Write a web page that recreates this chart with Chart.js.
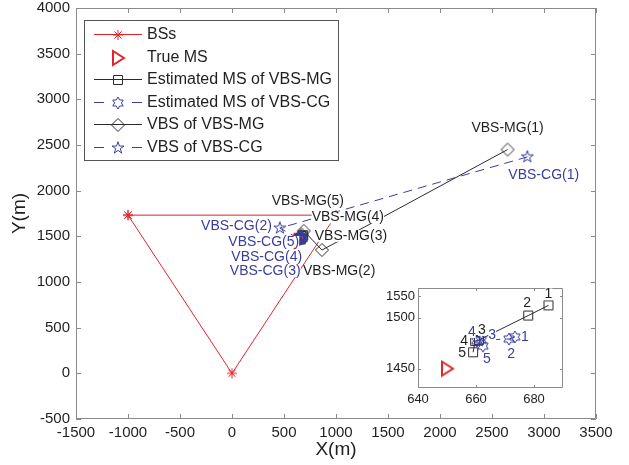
<!DOCTYPE html>
<html>
<head>
<meta charset="utf-8">
<script src="https://cdn.jsdelivr.net/npm/chart.js@4/dist/chart.umd.min.js"></script>
<style>
  body { margin: 0; background: #fff; }
  #wrap { position: relative; width: 629px; height: 465px; }
  #main { position: absolute; left: 0; top: 0; }
  #inset { position: absolute; left: 376px; top: 280px; }
</style>
</head>
<body>
<div id="wrap">
  <canvas id="main" width="629" height="465"></canvas>
  <canvas id="inset" width="200" height="140"></canvas>
</div>
<script>
const FONT = '"Liberation Sans", Arial, Helvetica, sans-serif';
const RED = '#e2232a';
const BLUE = '#393d9e';
const DARK = '#2b2b2b';
const AXIS = '#8a8a8a';
const TEXT = '#1f1f1f';

// Data
const seriesNames = ['BSs', 'True MS', 'Estimated MS of VBS-MG', 'Estimated MS of VBS-CG', 'VBS of VBS-MG', 'VBS of VBS-CG'];
const bsX = [-1000, 0, 1000, -1000];
const bsY = [1732, 0, 1732, 1732];
const trueMsX = [650];
const trueMsY = [1450];
const estMgX = [685, 678, 661, 659.7, 659];
const estMgY = [1512, 1502, 1478, 1477, 1466];
const estCgX = [673.4, 671.4, 661.8, 660.3, 662.4];
const estCgY = [1481, 1479, 1478, 1477, 1472];
const vbsMgX = [2650, 865, 690, 670, 660];
const vbsMgY = [2450, 1350, 1560, 1520, 1495];
const vbsCgX = [2840, 460, 650, 645, 665];
const vbsCgY = [2370, 1590, 1470, 1490, 1505];
const vbsMgNames = ['VBS-MG(1)', 'VBS-MG(2)', 'VBS-MG(3)', 'VBS-MG(4)', 'VBS-MG(5)'];
const vbsCgNames = ['VBS-CG(1)', 'VBS-CG(2)', 'VBS-CG(3)', 'VBS-CG(4)', 'VBS-CG(5)'];
const pointNumbers = ['1', '2', '3', '4', '5'];
const xTicks = [-1500, -1000, -500, 0, 500, 1000, 1500, 2000, 2500, 3000, 3500];
const yTicks = [-500, 0, 500, 1000, 1500, 2000, 2500, 3000, 3500, 4000];
const insetXTicks = [640, 660, 680];
const insetYTicks = [1450, 1500, 1521];
const insetYTickLabels = ['1450', '1500', '1550'];

// Marker images (MATLAB style outlines)
function marker(size, color, lw, path) {
    const c = document.createElement('canvas');
    c.width = size;
    c.height = size;
    const g = c.getContext('2d');
    g.strokeStyle = color;
    g.lineWidth = lw;
    g.translate(size / 2, size / 2);
    g.beginPath();
    path(g);
    g.stroke();
    return c;
}

function starPath(g, R, r, n) {
    for (let i = 0; i < 2 * n; i++) {
        const a = -Math.PI / 2 + i * Math.PI / n;
        const rr = i % 2 ? r : R;
        const px = rr * Math.cos(a), py = rr * Math.sin(a);
        if (i === 0) g.moveTo(px, py); else g.lineTo(px, py);
    }
    g.closePath();
}

const mkAsterisk = marker(14, RED, 1, g => {
    const r = 5, d = 3.6;
    g.moveTo(-r, 0); g.lineTo(r, 0);
    g.moveTo(0, -r); g.lineTo(0, r);
    g.moveTo(-d, -d); g.lineTo(d, d);
    g.moveTo(-d, d); g.lineTo(d, -d);
});
const mkTriangle = marker(18, RED, 2, g => {
    g.moveTo(6, 0); g.lineTo(-5, -7); g.lineTo(-5, 7); g.closePath();
});
const mkSquare = marker(14, DARK, 1, g => g.rect(-4.5, -4.5, 9, 9));
const mkHexagram = marker(16, BLUE, 1, g => starPath(g, 6, 6 * 0.577, 6));
const mkDiamond = marker(16, DARK, 1, g => {
    g.moveTo(0, -6.5); g.lineTo(6.5, 0); g.lineTo(0, 6.5); g.lineTo(-6.5, 0); g.closePath();
});
const mkPentagram = marker(16, BLUE, 1, g => starPath(g, 6.3, 6.3 * 0.382, 5));

function series(label, xs, ys, style, color, dash, line, order) {
    return {
        label: label,
        data: xs.map((x, i) => ({ x: x, y: ys[i] })),
        showLine: line,
        borderColor: color,
        backgroundColor: color,
        borderWidth: 1,
        borderDash: dash,
        pointStyle: style,
        pointRadius: 5,
        pointHoverRadius: 5,
        order: order
    };
}

// box with inward ticks on all four sides
function framePlugin(tickLen) {
    return {
        id: 'frame',
        afterDatasetsDraw(chart) {
            const { ctx, chartArea: a, scales } = chart;
            ctx.save();
            ctx.strokeStyle = AXIS;
            ctx.lineWidth = 1;
            ctx.beginPath();
            ctx.rect(a.left + 0.5, a.top + 0.5, a.right - a.left - 1, a.bottom - a.top - 1);
            scales.x.ticks.forEach(t => {
                const px = Math.round(scales.x.getPixelForValue(t.value)) + 0.5;
                ctx.moveTo(px, a.bottom); ctx.lineTo(px, a.bottom - tickLen);
                ctx.moveTo(px, a.top); ctx.lineTo(px, a.top + tickLen);
            });
            scales.y.ticks.forEach(t => {
                const py = Math.round(scales.y.getPixelForValue(t.value)) + 0.5;
                ctx.moveTo(a.left, py); ctx.lineTo(a.left + tickLen, py);
                ctx.moveTo(a.right, py); ctx.lineTo(a.right - tickLen, py);
            });
            ctx.stroke();
            ctx.restore();
        }
    };
}

function drawLabel(ctx, text, x, y, color, align, size) {
    ctx.font = size + 'px ' + FONT;
    const w = ctx.measureText(text).width;
    let left = x;
    if (align === 'center') left = x - w / 2;
    if (align === 'right') left = x - w;
    ctx.fillStyle = '#fff';
    ctx.fillRect(left, y - size * 0.42, w, size * 0.84);
    ctx.fillStyle = color;
    ctx.textAlign = 'left';
    ctx.textBaseline = 'middle';
    ctx.fillText(text, left, y);
}

// text labels: dataset index, point index, text, colour, alignment, pixel offset
const mainLabelSpec = [
    [4, 0, vbsMgNames[0], TEXT, 'center', 0, -21],
    [4, 1, vbsMgNames[1], TEXT, 'left', -19, 21],
    [4, 2, vbsMgNames[2], TEXT, 'left', 11, 5],
    [4, 3, vbsMgNames[3], TEXT, 'left', 10, -17],
    [4, 4, vbsMgNames[4], TEXT, 'left', -29, -36],
    [5, 0, vbsCgNames[0], BLUE, 'left', -19, 18],
    [5, 1, vbsCgNames[1], BLUE, 'right', -8, -2],
    [5, 2, vbsCgNames[2], BLUE, 'right', 1, 32],
    [5, 3, vbsCgNames[3], BLUE, 'right', 3, 20],
    [5, 4, vbsCgNames[4], BLUE, 'right', -2, 6]
];

const insetLabelSpec = [
    [0, 0, pointNumbers[0], TEXT, 'center', 0, -11],
    [0, 1, pointNumbers[1], TEXT, 'center', -1, -12],
    [0, 2, pointNumbers[2], TEXT, 'center', 3, -10],
    [0, 3, pointNumbers[3], TEXT, 'center', -11, 0],
    [0, 4, pointNumbers[4], TEXT, 'center', -11, 1],
    [1, 0, pointNumbers[0], BLUE, 'center', 10, 0],
    [1, 1, pointNumbers[1], BLUE, 'center', 2, 15],
    [1, 2, pointNumbers[2], BLUE, 'center', 11, -5],
    [1, 3, pointNumbers[3], BLUE, 'center', -5, -9],
    [1, 4, pointNumbers[4], BLUE, 'center', 4, 13]
];

function labelPlugin(spec, size) {
    return {
        id: 'pointLabels',
        afterDatasetsDraw(chart) {
            const ctx = chart.ctx;
            ctx.save();
            spec.forEach(([d, i, text, color, align, dx, dy]) => {
                const el = chart.getDatasetMeta(d).data[i];
                drawLabel(ctx, text, el.x + dx, el.y + dy, color, align, size);
            });
            ctx.restore();
        }
    };
}

const legendBox = {
    id: 'matlabLegend',
    afterDraw(chart) {
        const ctx = chart.ctx;
        ctx.save();
        ctx.fillStyle = '#fff';
        ctx.fillRect(84, 20, 254, 140);
        ctx.strokeStyle = '#555';
        ctx.lineWidth = 1;
        ctx.strokeRect(84.5, 20.5, 254, 140);
        chart.data.datasets.forEach((d, i) => {
            const y = Math.round(34 + i * 22.6) + 0.5;
            if (d.showLine) {
                ctx.strokeStyle = d.borderColor;
                ctx.beginPath();
                if (d.borderDash && d.borderDash.length) {
                    ctx.moveTo(94, y); ctx.lineTo(104, y);
                    ctx.moveTo(132, y); ctx.lineTo(142, y);
                } else {
                    ctx.moveTo(94, y); ctx.lineTo(142, y);
                }
                ctx.stroke();
            }
            const m = d.pointStyle;
            ctx.drawImage(m, 118 - m.width / 2, Math.round(y) - m.height / 2);
            ctx.fillStyle = TEXT;
            ctx.font = '16px ' + FONT;
            ctx.textAlign = 'left';
            ctx.textBaseline = 'middle';
            ctx.fillText(d.label, 147, y);
        });
        ctx.restore();
    }
};

const insetBackground = {
    id: 'insetBg',
    beforeDraw(chart) {
        const { ctx, chartArea: a } = chart;
        ctx.save();
        ctx.fillStyle = '#fff';
        ctx.fillRect(a.left, a.top, a.right - a.left, a.bottom - a.top);
        ctx.restore();
    }
};

const mainChart = new Chart(document.getElementById('main'), {
    type: 'scatter',
    data: {
        datasets: [
            series(seriesNames[0], bsX, bsY, mkAsterisk, RED, [], true, 6),
            series(seriesNames[1], trueMsX, trueMsY, mkTriangle, RED, [], false, 5),
            series(seriesNames[2], estMgX, estMgY, mkSquare, DARK, [], true, 4),
            series(seriesNames[3], estCgX, estCgY, mkHexagram, BLUE, [9, 6], true, 2),
            series(seriesNames[4], vbsMgX, vbsMgY, mkDiamond, DARK, [], true, 3),
            series(seriesNames[5], vbsCgX, vbsCgY, mkPentagram, BLUE, [9, 6], true, 1)
        ]
    },
    options: {
        responsive: false,
        animation: false,
        devicePixelRatio: 1,
        layout: { padding: { top: 8, right: 33, left: 0, bottom: 0 } },
        plugins: { legend: { display: false }, tooltip: { enabled: false } },
        scales: {
            x: {
                type: 'linear',
                min: -1500,
                max: 3500,
                grid: { display: false, drawTicks: false },
                border: { display: false },
                ticks: {
                    font: { family: FONT, size: 15 },
                    color: TEXT,
                    padding: 5,
                    maxRotation: 0,
                    autoSkip: false,
                    callback: v => String(v)
                },
                title: { display: true, text: 'X(m)', font: { family: FONT, size: 19 }, color: TEXT, padding: { top: 0, bottom: 4 } },
                afterBuildTicks: s => { s.ticks = xTicks.map(v => ({ value: v })); },
                afterFit: s => { s.height = 46; s.paddingLeft = 0; s.paddingRight = 0; }
            },
            y: {
                type: 'linear',
                min: -500,
                max: 4000,
                grid: { display: false, drawTicks: false },
                border: { display: false },
                ticks: {
                    font: { family: FONT, size: 15 },
                    color: TEXT,
                    padding: 6,
                    autoSkip: false,
                    callback: v => String(v)
                },
                title: { display: true, text: 'Y(m)', font: { family: FONT, size: 19 }, color: TEXT, padding: { top: 8, bottom: 0 } },
                afterBuildTicks: s => { s.ticks = yTicks.map(v => ({ value: v })); },
                afterFit: s => { s.width = 76; s.paddingTop = 0; s.paddingBottom = 0; }
            }
        }
    },
    plugins: [framePlugin(5), labelPlugin(mainLabelSpec, 14), legendBox]
});

const insetChart = new Chart(document.getElementById('inset'), {
    type: 'scatter',
    data: {
        datasets: [
            series(seriesNames[2], estMgX, estMgY, mkSquare, DARK, [], true, 2),
            series(seriesNames[3], estCgX, estCgY, mkHexagram, BLUE, [9, 6], true, 1),
            series(seriesNames[1], trueMsX, trueMsY, mkTriangle, RED, [], false, 3)
        ]
    },
    options: {
        responsive: false,
        animation: false,
        devicePixelRatio: 1,
        layout: { padding: { top: 8, right: 13, left: 0, bottom: 0 } },
        plugins: { legend: { display: false }, tooltip: { enabled: false } },
        scales: {
            x: {
                type: 'linear',
                min: 640,
                max: 690,
                grid: { display: false, drawTicks: false },
                border: { display: false },
                ticks: { font: { family: FONT, size: 13 }, color: TEXT, padding: 4, maxRotation: 0, autoSkip: false },
                afterBuildTicks: s => { s.ticks = insetXTicks.map(v => ({ value: v })); },
                afterFit: s => { s.height = 32; s.paddingLeft = 0; s.paddingRight = 0; }
            },
            y: {
                type: 'linear',
                min: 1431,
                max: 1529,
                grid: { display: false, drawTicks: false },
                border: { display: false },
                ticks: {
                    font: { family: FONT, size: 13 },
                    color: TEXT,
                    padding: 3,
                    autoSkip: false,
                    callback: (v, i) => insetYTickLabels[i]
                },
                afterBuildTicks: s => { s.ticks = insetYTicks.map(v => ({ value: v })); },
                afterFit: s => { s.width = 42; s.paddingTop = 0; s.paddingBottom = 0; }
            }
        }
    },
    plugins: [insetBackground, framePlugin(3), labelPlugin(insetLabelSpec, 14)]
});
</script>
</body>
</html>
